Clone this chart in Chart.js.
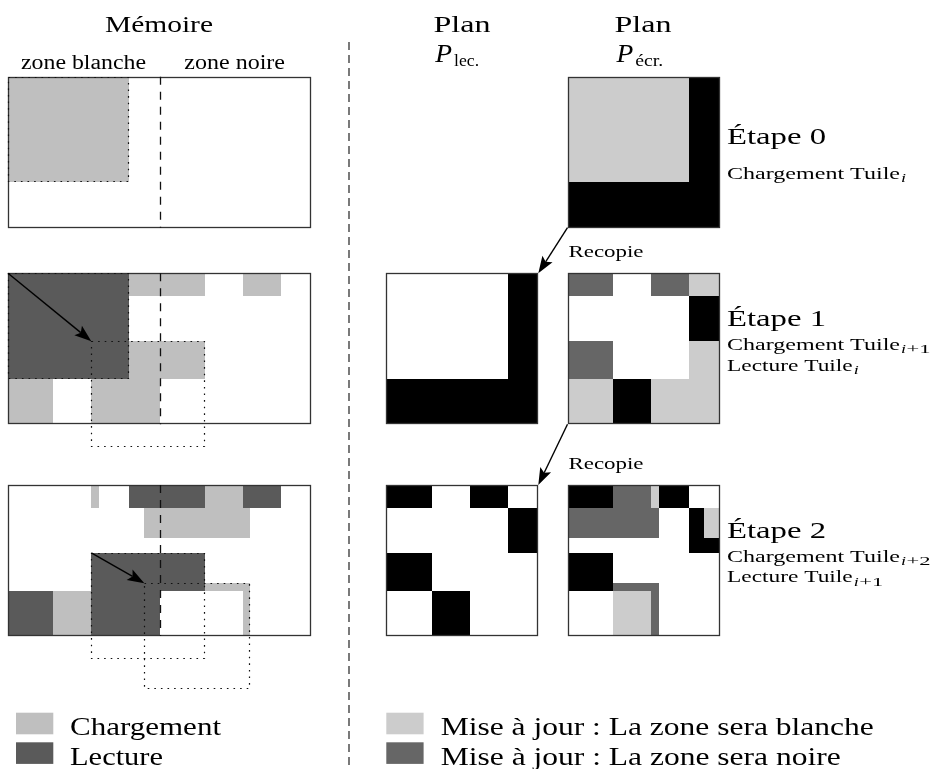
<!DOCTYPE html>
<html>
<head>
<meta charset="utf-8">
<script src="https://cdn.jsdelivr.net/npm/chart.js@4"></script>
<style>
  body { margin: 0; background: #fff; }
</style>
</head>
<body>
<canvas id="diagram" width="938" height="769"></canvas>
<script>
// Mémoire: rectangles [x0, y0, x1, y1] in cells, each band is 40 x 20 cells
const memLoad = [
    [[0, 0, 16, 14]],
    [[16, 0, 26, 3], [31, 0, 36, 3], [16, 9, 26, 14], [11, 14, 20, 20], [0, 14, 6, 20]],
    [[11, 0, 12, 3], [26, 0, 31, 3], [18, 3, 32, 7], [26, 13, 32, 14], [31, 14, 32, 20], [6, 14, 11, 20]]
];
const memRead = [
    [],
    [[0, 0, 16, 14]],
    [[16, 0, 26, 3], [31, 0, 36, 3], [11, 9, 26, 14], [11, 14, 20, 20], [0, 14, 6, 20]]
];
const memTiles = [
    [[0, 0, 16, 14]],
    [[0, 0, 16, 14], [11, 9, 26, 23]],
    [[11, 9, 26, 23], [18, 13, 32, 27]]
];
const memMoves = [null, [0, 0, 11, 9], [11, 9, 18, 13]];

// Plans: 20 x 20 cells, everything not listed is white
const lecBlack = [
    null,
    [[16, 0, 20, 20], [0, 14, 16, 20]],
    [[0, 0, 6, 3], [11, 0, 16, 3], [16, 3, 20, 9], [0, 9, 6, 14], [6, 14, 11, 20]]
];
const ecrBlack = [
    [[16, 0, 20, 20], [0, 14, 16, 20]],
    [[16, 3, 20, 9], [6, 14, 11, 20]],
    [[0, 0, 6, 3], [12, 0, 16, 3], [16, 3, 18, 9], [18, 7, 20, 9], [0, 9, 6, 14]]
];
const ecrToBlack = [
    [],
    [[0, 0, 6, 3], [11, 0, 16, 3], [0, 9, 6, 14]],
    [[6, 0, 11, 3], [0, 3, 12, 7], [6, 13, 12, 20]]
];
const ecrToWhite = [
    [[0, 0, 16, 14]],
    [[16, 0, 20, 3], [16, 9, 20, 20], [0, 14, 6, 20], [11, 14, 16, 20]],
    [[11, 0, 12, 3], [18, 3, 20, 7], [6, 14, 11, 20]]
];

const stepTitles = ['Étape 0', 'Étape 1', 'Étape 2'];
const stepLines = [
    [['Chargement Tuile', 'i', '']],
    [['Chargement Tuile', 'i', '+1'], ['Lecture Tuile', 'i', '']],
    [['Chargement Tuile', 'i', '+2'], ['Lecture Tuile', 'i', '+1']]
];
const legendMem = ['Chargement', 'Lecture'];
const legendPlan = ['Mise à jour : La zone sera blanche', 'Mise à jour : La zone sera noire'];

const colors = {
    load: '#bfbfbf',
    read: '#5a5a5a',
    toWhite: '#cccccc',
    toBlack: '#666666',
    black: '#000000',
    frame: '#333333'
};

// layout of the bands (chart units = pixels of the 938 x 769 frame)
const bandTops = [76.7, 273.3, 485];
const cellH = 7.55;
const mem = { x: 8, cw: 7.575 };
const lec = { x: 386.3, cw: 7.6 };
const ecr = { x: 567.5, cw: 7.6 };
const FONT = '"Liberation Serif", "DejaVu Serif", serif';

const diagramPlugin = {
    id: 'diagram',
    afterDraw(chart) {
        const ctx = chart.ctx;
        const sx = chart.scales.x, sy = chart.scales.y;
        const X = v => sx.getPixelForValue(v);
        const Y = v => sy.getPixelForValue(v);

        function cellRect(p, top, r) {
            const x0 = Math.round(X(p.x + r[0] * p.cw)), x1 = Math.round(X(p.x + r[2] * p.cw));
            const y0 = Math.round(Y(top + r[1] * cellH)), y1 = Math.round(Y(top + r[3] * cellH));
            return [x0, y0, x1 - x0, y1 - y0];
        }
        function fillCells(p, top, list, color) {
            ctx.fillStyle = color;
            (list || []).forEach(r => ctx.fillRect(...cellRect(p, top, r)));
        }
        function frame(p, top, r) {
            const [x, y, w, h] = cellRect(p, top, r);
            ctx.strokeRect(x + 0.5, y + 0.5, w - 1, h - 1);
        }
        function arrow(x0, y0, x1, y1) {
            const a = Math.atan2(y1 - y0, x1 - x0);
            const len = 17, half = 6;
            const c = Math.cos(a), s = Math.sin(a);
            ctx.save();
            ctx.setLineDash([]);
            ctx.strokeStyle = '#000';
            ctx.fillStyle = '#000';
            ctx.lineWidth = 1.4;
            ctx.beginPath();
            ctx.moveTo(x0, y0);
            ctx.lineTo(x1 - c * len * 0.8, y1 - s * len * 0.8);
            ctx.stroke();
            ctx.beginPath();
            ctx.moveTo(x1, y1);
            ctx.lineTo(x1 - c * len - s * half, y1 - s * len + c * half);
            ctx.lineTo(x1 - c * len * 0.8, y1 - s * len * 0.8);
            ctx.lineTo(x1 - c * len + s * half, y1 - s * len - c * half);
            ctx.closePath();
            ctx.fill();
            ctx.restore();
        }
        // text stretched to a given width (the original is set in a wide Computer Modern)
        function text(s, x, y, size, w, italic, align) {
            ctx.font = (italic ? 'italic ' : '') + size + 'px ' + FONT;
            const m = ctx.measureText(s).width;
            const k = w ? w / m : 1.1;
            let left = X(x);
            if (align === 'center') left -= m * k / 2;
            ctx.save();
            ctx.translate(left, Y(y));
            ctx.scale(k, 1);
            ctx.fillStyle = '#000';
            ctx.textBaseline = 'alphabetic';
            ctx.fillText(s, 0, 0);
            ctx.restore();
            return sx.getValueForPixel(left + m * k);
        }
        function tileLabel(ln, x, y, w) {
            const end = text(ln[0], x, y, 17, w);
            const e2 = text(ln[1], end + 1, y + 3.3, 13, 5, true);
            if (ln[2]) text(ln[2], e2 + 0.5, y + 3.3, 13, 24);
        }

        ctx.save();
        ctx.fillStyle = '#fff';
        ctx.fillRect(0, 0, chart.width, chart.height);

        // headers
        text('Mémoire', 159, 31.5, 24, 108, false, 'center');
        text('zone blanche', 21, 69, 20, 125);
        text('zone noire', 184.3, 69, 20, 100.7);
        [[462, 435.3], [643, 616.4]].forEach(([c, px], i) => {
            text('Plan', c, 31.5, 24, 57, false, 'center');
            const end = text('P', px, 61.5, 25, null, true);
            text(i === 0 ? 'lec.' : 'écr.', end + 2, 65.5, 17, i === 0 ? 25 : 28);
        });

        bandTops.forEach((top, b) => {
            // memory band
            fillCells(mem, top, memLoad[b], colors.load);
            fillCells(mem, top, memRead[b], colors.read);
            ctx.strokeStyle = colors.frame;
            ctx.lineWidth = 1.3;
            ctx.setLineDash([]);
            frame(mem, top, [0, 0, 40, 20]);
            ctx.strokeStyle = '#111';
            ctx.lineWidth = 1.2;
            ctx.setLineDash([1.6, 5]);
            memTiles[b].forEach(r => frame(mem, top, r));
            ctx.setLineDash([8, 7]);
            ctx.lineWidth = 1.3;
            const mx = Math.round(X(mem.x + 20 * mem.cw)) + 0.5;
            ctx.beginPath();
            ctx.moveTo(mx, Y(top));
            ctx.lineTo(mx, Y(top + 20 * cellH));
            ctx.stroke();
            ctx.setLineDash([]);
            const mv = memMoves[b];
            if (mv) {
                arrow(X(mem.x + mv[0] * mem.cw), Y(top + mv[1] * cellH),
                      X(mem.x + mv[2] * mem.cw), Y(top + mv[3] * cellH));
            }

            // plans
            ctx.strokeStyle = colors.frame;
            ctx.lineWidth = 1.3;
            if (lecBlack[b]) {
                fillCells(lec, top, lecBlack[b], colors.black);
                frame(lec, top, [0, 0, 20, 20]);
            }
            fillCells(ecr, top, ecrBlack[b], colors.black);
            fillCells(ecr, top, ecrToBlack[b], colors.toBlack);
            fillCells(ecr, top, ecrToWhite[b], colors.toWhite);
            frame(ecr, top, [0, 0, 20, 20]);

            // copy arrow from the previous written plan to this read plan
            if (b > 0) {
                const prevTop = bandTops[b - 1];
                arrow(X(ecr.x), Y(prevTop + 20 * cellH), X(lec.x + 20 * lec.cw), Y(top));
                text('Recopie', ecr.x + 1, top - 16.5, 17, 75);
            }

            // step labels
            const tx = 727;
            if (b === 0) {
                text(stepTitles[b], tx, top + 67.6, 23, 99);
                tileLabel(stepLines[b][0], tx, top + 101.8, 173);
            } else {
                text(stepTitles[b], tx, top + 52.7, 23, 99);
                stepLines[b].forEach((ln, i) => {
                    const w = ln[0].startsWith('Chargement') ? 173 : 125.7;
                    tileLabel(ln, tx, top + 76.7 + i * 20.5, w);
                });
            }
        });

        // separator
        ctx.strokeStyle = '#222';
        ctx.lineWidth = 1.2;
        ctx.setLineDash([8, 5]);
        ctx.beginPath();
        ctx.moveTo(X(349), Y(42));
        ctx.lineTo(X(349), Y(769));
        ctx.stroke();
        ctx.setLineDash([]);

        // legends
        const legMemCols = [colors.load, colors.read];
        const legPlanCols = [colors.toWhite, colors.toBlack];
        const legW = [[151, 93], [433, 400]];
        [0, 1].forEach(i => {
            const y0 = 712.7 + i * 29.6;
            ctx.fillStyle = legMemCols[i];
            ctx.fillRect(X(16), Y(y0), X(53.3) - X(16), Y(y0 + 21.6) - Y(y0));
            text(legendMem[i], 70, y0 + 22.3, 26, legW[0][i]);
            ctx.fillStyle = legPlanCols[i];
            ctx.fillRect(X(386.3), Y(y0), X(423.6) - X(386.3), Y(y0 + 21.6) - Y(y0));
            text(legendPlan[i], 440.7, y0 + 22.3, 26, legW[1][i]);
        });
        ctx.restore();
    }
};

function build() {
    new Chart(document.getElementById('diagram'), {
        type: 'scatter',
        data: { datasets: [{ data: [] }] },
        options: {
            responsive: false,
            animation: false,
            devicePixelRatio: 1,
            layout: { padding: 0 },
            plugins: {
                legend: { display: false },
                tooltip: { enabled: false }
            },
            scales: {
                x: { type: 'linear', min: 0, max: 938, display: false },
                y: { type: 'linear', min: 0, max: 769, reverse: true, display: false }
            }
        },
        plugins: [diagramPlugin]
    });
}

// make sure the serif face is ready before drawing on the canvas
Promise.all([
    document.fonts.load('24px "Liberation Serif"'),
    document.fonts.load('italic 24px "Liberation Serif"')
]).catch(() => {}).then(build);
</script>
</body>
</html>
